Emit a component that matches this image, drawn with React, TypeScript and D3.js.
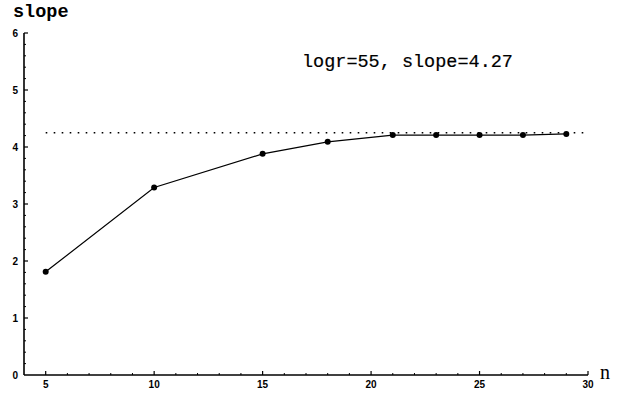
import React from "react";
import * as d3 from "d3";

const nValues = [5, 10, 15, 18, 21, 23, 25, 27, 29];
const slopeValues = [1.81, 3.29, 3.88, 4.09, 4.21, 4.21, 4.21, 4.21, 4.23];
const asymptote = 4.25;
const asymptoteRange = [5, 30];
const xMajorTicks = [5, 10, 15, 20, 25, 30];
const yMajorTicks = [0, 1, 2, 3, 4, 5, 6];
const titleText = "slope";
const annotationText = "logr=55, slope=4.27";
const xLabelText = "n";

export default function App() {
  const W = 625;
  const H = 394;
  const x = d3.scaleLinear().domain([4, 30]).range([24, 588]);
  const y = d3.scaleLinear().domain([0, 6]).range([375, 33]);

  const xMinor = d3.range(5, 31, 1).filter((v) => !xMajorTicks.includes(v));
  const yMinor = d3.range(0, 6.001, 0.2).filter((v) => Math.abs(v - Math.round(v)) > 1e-6);

  const data = nValues.map((n, i) => ({ n, s: slopeValues[i] }));
  const line = d3
    .line<{ n: number; s: number }>()
    .x((d) => x(d.n))
    .y((d) => y(d.s));

  const tickFont = "'Liberation Sans', Arial, sans-serif";
  const monoFont = "'Liberation Mono', 'Courier New', monospace";

  return (
    <svg
      width={W}
      height={H}
      style={{ position: "absolute", left: 0, top: 0, background: "#fff" }}
    >
      <rect x={0} y={0} width={W} height={H} fill="#fff" />
      {/* axes */}
      <line x1={x(4)} x2={x(4)} y1={y(0)} y2={y(6)} stroke="#000" strokeWidth={1.6} />
      <line x1={x(4)} x2={x(30)} y1={y(0)} y2={y(0)} stroke="#000" strokeWidth={1.6} />
      {/* y ticks */}
      {yMajorTicks.map((v) => (
        <g key={"ym" + v}>
          {v > 0 && (
            <line x1={x(4)} x2={x(4) + 4} y1={y(v)} y2={y(v)} stroke="#000" strokeWidth={1.2} />
          )}
          <text
            x={18}
            y={y(v)}
            dy="0.35em"
            textAnchor="end"
            fontFamily={tickFont}
            fontWeight="bold"
            fontSize={10}
          >
            {v}
          </text>
        </g>
      ))}
      {yMinor.map((v, i) => (
        <line key={"yn" + i} x1={x(4)} x2={x(4) + 2} y1={y(v)} y2={y(v)} stroke="#000" strokeWidth={1} />
      ))}
      {/* x ticks */}
      {xMajorTicks.map((v) => (
        <g key={"xm" + v}>
          <line x1={x(v)} x2={x(v)} y1={y(0)} y2={y(0) - 4} stroke="#000" strokeWidth={1.2} />
          <text
            x={x(v)}
            y={388}
            textAnchor="middle"
            fontFamily={tickFont}
            fontWeight="bold"
            fontSize={10}
          >
            {v}
          </text>
        </g>
      ))}
      {xMinor.map((v) => (
        <line key={"xn" + v} x1={x(v)} x2={x(v)} y1={y(0)} y2={y(0) - 2} stroke="#000" strokeWidth={1} />
      ))}
      {/* asymptote dotted line */}
      <line
        x1={x(asymptoteRange[0])}
        x2={x(asymptoteRange[1])}
        y1={y(asymptote)}
        y2={y(asymptote)}
        stroke="#000"
        strokeWidth={1.6}
        strokeDasharray="1.6 6.4"
      />
      {/* series */}
      <path d={line(data) || ""} fill="none" stroke="#000" strokeWidth={1.2} />
      {data.map((d, i) => (
        <circle key={"p" + i} cx={x(d.n)} cy={y(d.s)} r={3} fill="#000" />
      ))}
      {/* texts */}
      <text x={13} y={17} fontFamily={monoFont} fontWeight="bold" fontSize={18.5}>
        {titleText}
      </text>
      <text
        x={302}
        y={67}
        fontFamily={monoFont}
        fontSize={18.5}
        stroke="#000"
        strokeWidth={0.2}
      >
        {annotationText}
      </text>
      <text x={600} y={379} fontFamily="'Liberation Serif', 'Times New Roman', serif" fontSize={20}>
        {xLabelText}
      </text>
    </svg>
  );
}
